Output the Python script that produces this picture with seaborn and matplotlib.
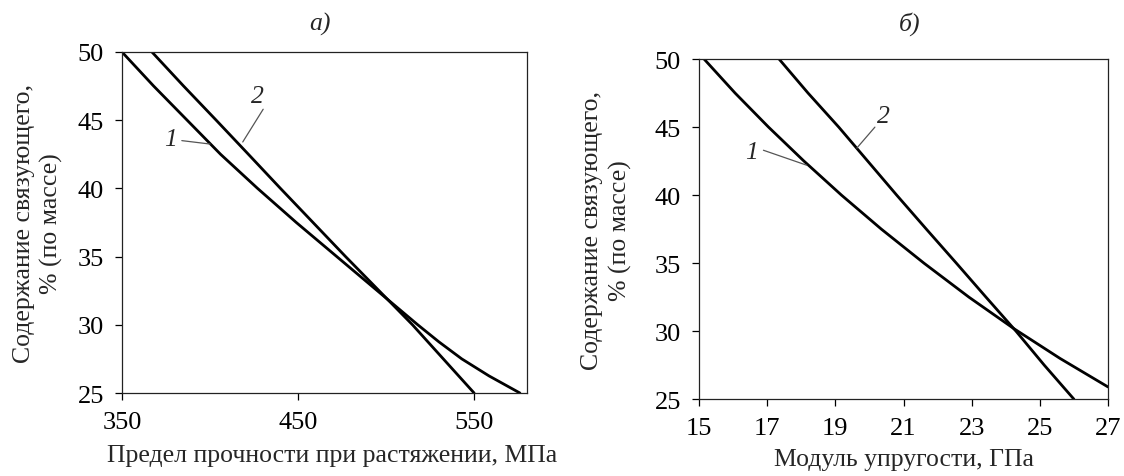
import matplotlib
matplotlib.use("Agg")
import matplotlib.pyplot as plt
import seaborn as sns
import pandas as pd

# а) содержание связующего vs предел прочности при растяжении, МПа
content_grid = [50, 47.5, 45, 42.5, 40, 37.5, 35, 32.5, 30, 28.75, 27.5, 26.25, 25]
strength_1 = [350, 368, 387, 406, 427, 449, 472, 495, 518, 530, 543, 558.5, 576]
content_2a = [50, 47.5, 45, 42.5, 40, 37.5, 35, 32.5, 30, 27.5, 25]
strength_2 = [367, 385, 403.5, 421.8, 440, 458.5, 477, 496, 515, 532.5, 550]

# б) содержание связующего vs модуль упругости, ГПа
content_1b = [50, 47.5, 45, 42.5, 40, 37.5, 35, 32.5, 30.2, 28, 25.9]
modulus_1 = [15.15, 16.06, 17.04, 18.08, 19.18, 20.35, 21.6, 22.92, 24.23, 25.59, 27.0]
content_2b = [50, 47.5, 45, 42.5, 40, 37.5, 35, 32.5, 30, 27.5, 25]
modulus_2 = [17.35, 18.2, 19.1, 19.95, 20.8, 21.67, 22.55, 23.42, 24.3, 25.13, 26.0]

y_ticks = [25, 30, 35, 40, 45, 50]
x_ticks_a = [350, 450, 550]
x_ticks_b = [15, 17, 19, 21, 23, 25, 27]

ylabel = "Содержание связующего,\n% (по массе)"

sns.set_style("ticks")
plt.rcParams['font.family'] = ['Liberation Serif', 'DejaVu Serif']
plt.rcParams['axes.edgecolor'] = '#222222'
plt.rcParams['axes.linewidth'] = 0.9

fig = plt.figure(figsize=(11.24, 4.77), dpi=100)
ax_a = fig.add_axes([0.1085, 0.174, 0.3603, 0.715])
ax_b = fig.add_axes([0.6219, 0.161, 0.3639, 0.713])


def draw_curve(ax, x, y):
    df = pd.DataFrame({'x': x, 'y': y})
    sns.lineplot(data=df, x='x', y='y', sort=False, estimator=None,
                 color='black', lw=2.0, ax=ax)


def style_axes(ax, xlim, xticks, xlabel, ylab_x, xlab):
    ax.set_xlim(*xlim)
    ax.set_ylim(25, 50)
    ax.set_xticks(xticks)
    ax.set_yticks(y_ticks)
    for s in ax.spines.values():
        s.set_visible(True)
    ax.tick_params(direction='out', length=5, width=0.9, pad=8,
                   labelsize=19, colors='black', top=False, right=False)
    ax.set_xlabel(xlabel, fontsize=18.5)
    ax.set_ylabel(ylabel, fontsize=18.5, linespacing=1.3)
    ax.yaxis.set_label_coords(ylab_x, 0.5)
    ax.xaxis.set_label_coords(*xlab)


def mark(ax, text, tx, ty, x0, y0, x1, y1):
    ax.plot([x0, x1], [y0, y1], color='#555555', lw=0.9)
    ax.text(tx, ty, text, fontsize=18.5, style='italic', ha='center', va='center')


draw_curve(ax_a, strength_1, content_grid)
draw_curve(ax_a, strength_2, content_2a)
style_axes(ax_a, (350, 580), x_ticks_a, "Предел прочности при растяжении, МПа",
           -0.145, (0.52, -0.15))
mark(ax_a, "1", 377.8, 43.6, 384, 43.5, 400, 43.25)
mark(ax_a, "2", 427, 46.8, 430.2, 45.8, 418.6, 43.4)

draw_curve(ax_b, modulus_1, content_1b)
draw_curve(ax_b, modulus_2, content_2b)
style_axes(ax_b, (15, 27), x_ticks_b, "Модуль упругости, ГПа", -0.165, (0.5, -0.144))
mark(ax_b, "1", 16.55, 43.2, 16.89, 43.3, 18.16, 42.2)
mark(ax_b, "2", 20.4, 45.8, 20.16, 45.0, 19.63, 43.46)

fig.text(320 / 1124, 1 - 24 / 477, "а)", fontsize=18.5, style='italic',
         ha='center', va='center')
fig.text(910 / 1124, 1 - 24 / 477, "б)", fontsize=18.5, style='italic',
         ha='center', va='center')

fig.savefig("out.png", dpi=100)
